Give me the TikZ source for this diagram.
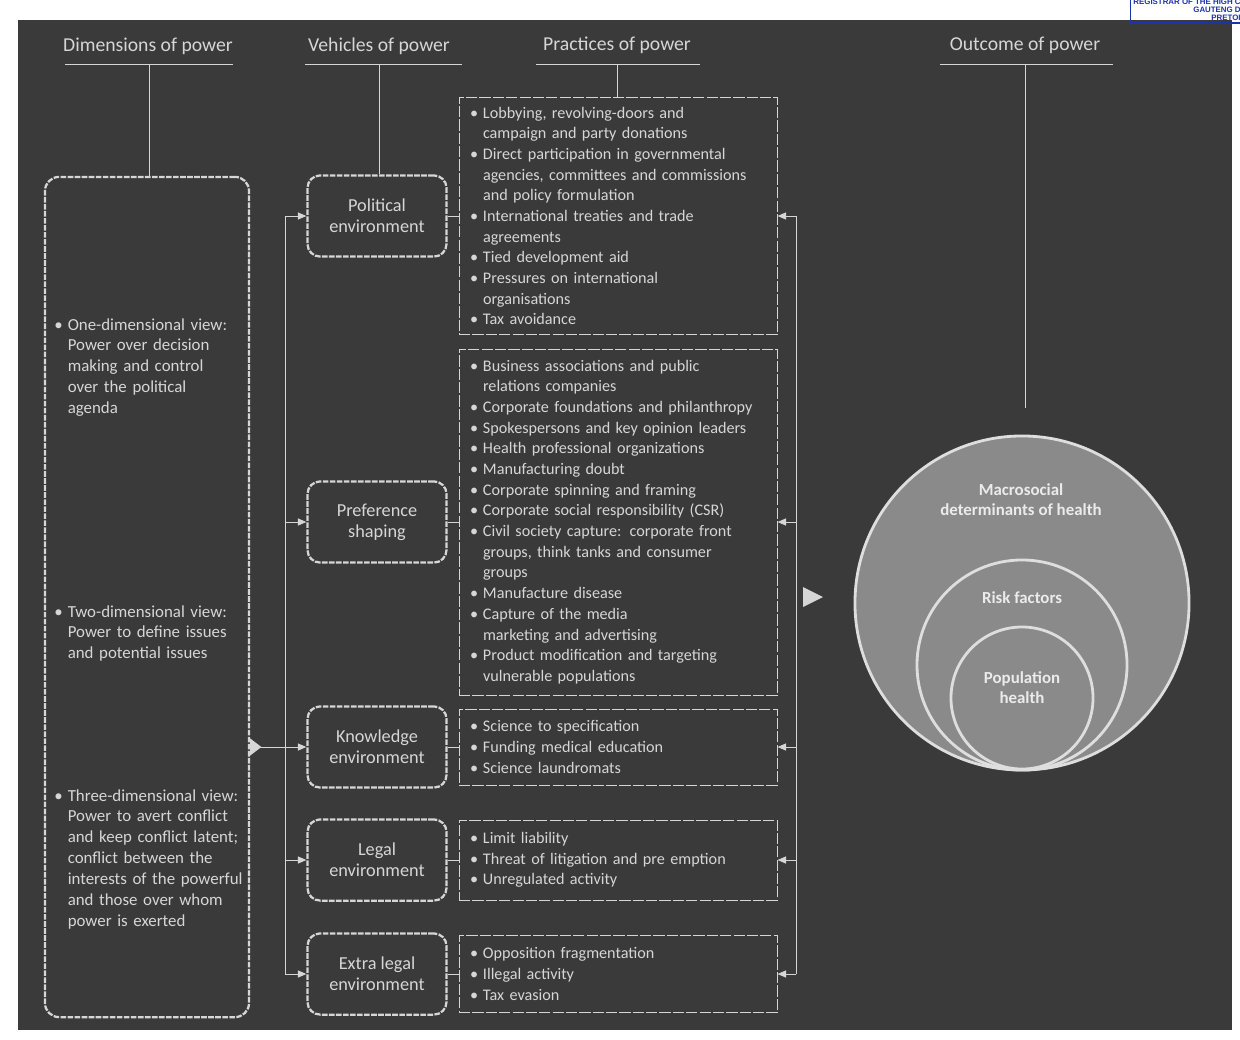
\documentclass[tikz,border=0pt]{standalone}
\usepackage{fontspec}
\setmainfont{Carlito}
\newfontfamily\stampfont{Liberation Sans}
\usetikzlibrary{arrows.meta,positioning,calc}
\definecolor{panel}{RGB}{58,58,58}
\definecolor{ink}{RGB}{214,214,214}
\definecolor{disc}{RGB}{138,138,138}
\definecolor{rim}{RGB}{222,222,222}
\definecolor{stampblue}{RGB}{30,50,170}
\newcommand{\bul}{\makebox[0.8em][l]{\textbullet}}
\newcommand{\contl}{\hspace*{0.8em}}
\tikzset{
  hdr/.style={font=\fontsize{14}{17}\selectfont, text=ink, inner sep=0pt},
  dbox/.style={rectangle, draw=ink, rounded corners=10pt, line width=1.6pt,
               dash pattern=on 4pt off 1pt, minimum width=5.1cm, minimum height=21cm},
  dtext/.style={align=left, text width=5.5cm, text=ink, inner sep=0pt,
                font=\fontsize{12}{14.9}\selectfont},
  vbox/.style={rectangle, draw=ink, rounded corners=9pt, line width=1.6pt,
               dash pattern=on 4pt off 1pt, minimum width=3.475cm, minimum height=2.03cm,
               align=center, text=ink, font=\fontsize{13}{15}\selectfont},
  pbox/.style={rectangle, draw=ink, line width=0.6pt, dash pattern=on 8pt off 1.5pt,
               text width=7.4cm, inner xsep=0.275cm, align=left, text=ink,
               font=\fontsize{11.5}{14.7}\selectfont},
  ring/.style={circle, draw=rim, line width=2pt, fill=disc},
  ctext/.style={align=center, text=white!92!black, font=\bfseries\fontsize{12}{14.2}\selectfont},
  link/.style={draw=ink, line width=0.7pt},
  arr/.style={-{Triangle[length=6pt,width=5pt]}, link},
  feed/.style={{Triangle[reversed,length=8pt,width=12pt]}-{Triangle[length=6pt,width=5pt]}, link},
  stampbox/.style={draw=stampblue, line width=0.8pt, text=stampblue, align=right, inner sep=2pt,
                   font=\stampfont\bfseries\fontsize{5.6}{5.4}\selectfont},
}
\begin{document}
\begin{tikzpicture}[x=0.025cm, y=-0.025cm, node distance=0.275cm]
    \clip (0,0) rectangle (1240,1039);
    \fill[white] (0,0) rectangle (1240,1039);
    \fill[panel] (18,20) rectangle (1232,1030);
    \node[stampbox, anchor=north east] (stamp) at (1244,-4) {REGISTRAR OF THE HIGH C\\GAUTENG D\\PRETOI};

    \node[hdr] (hdim) at (148,46) {Dimensions of power};
    \node[hdr] (hveh) at (379,46) {Vehicles of power};
    \node[hdr] (hpra) at (617,45) {Practices of power};
    \node[hdr] (hout) at (1025,45) {Outcome of power};
    \coordinate (udim) at (149,64); \coordinate (uveh) at (379,64);
    \coordinate (upra) at (617,64); \coordinate (uout) at (1025,64);
    \draw[link] (65,64) -- (233,64); \draw[link] (305,64) -- (462,64);
    \draw[link] (536,64) -- (700,64); \draw[link] (940,64) -- (1113,64);

    \node[dbox] (dims) at (147,597) {};
    \node[dtext, anchor=north west] (dimone) at (54,318)
      {\bul One-dimensional view:\\\contl Power over decision\\\contl making and control\\\contl over the political\\\contl agenda};
    \node[dtext, anchor=north west] (dimtwo) at (54,605)
      {\bul Two-dimensional view:\\\contl Power to define issues\\\contl and potential issues};
    \node[dtext, anchor=north west] (dimthree) at (54,789)
      {\bul Three-dimensional view:\\\contl Power to avert conflict\\\contl and keep conflict latent;\\\contl conflict between the\\\contl interests of the powerful\\\contl and those over whom\\\contl power is exerted};

    \node[vbox] (pol) at (377,216) {Political\\environment};
    \node[vbox] (pref) at (377,522) {Preference\\shaping};
    \node[vbox] (know) at (377,747) {Knowledge\\environment};
    \node[vbox] (legal) at (377,860) {Legal\\environment};
    \node[vbox] (xl) at (377,974) {Extra legal\\environment};

    \node[pbox, minimum height=5.925cm, right=of pol] (p1)
      {\bul Lobbying, revolving-doors and\\
       \contl campaign and party donations\\
       \bul Direct participation in governmental\\
       \contl agencies, committees and commissions\\
       \contl and policy formulation\\
       \bul International treaties and trade\\
       \contl agreements\\
       \bul Tied development aid\\
       \bul Pressures on international\\
       \contl organisations\\
       \bul Tax avoidance};
    \node[pbox, minimum height=8.65cm, right=of pref] (p2)
      {\bul Business associations and public\\
       \contl relations companies\\
       \bul Corporate foundations and philanthropy\\
       \bul Spokespersons and key opinion leaders\\
       \bul Health professional organizations\\
       \bul Manufacturing doubt\\
       \bul Corporate spinning and framing\\
       \bul Corporate social responsibility (CSR)\\
       \bul Civil society capture: corporate front\\
       \contl groups, think tanks and consumer\\
       \contl groups\\
       \bul Manufacture disease\\
       \bul Capture of the media\\
       \contl marketing and advertising\\
       \bul Product modification and targeting\\
       \contl vulnerable populations};
    \node[pbox, minimum height=1.9cm, right=of know] (p3)
      {\bul Science to specification\\\bul Funding medical education\\\bul Science laundromats};
    \node[pbox, minimum height=2cm, right=of legal] (p4)
      {\bul Limit liability\\\bul Threat of litigation and pre emption\\\bul Unregulated activity};
    \node[pbox, minimum height=1.925cm, right=of xl] (p5)
      {\bul Opposition fragmentation\\\bul Illegal activity\\\bul Tax evasion};

    \node[ring, minimum size=8.35cm] (macro) at (1022,603) {};
    \node[ring, minimum size=5.25cm] (risk) at (1022,665) {};
    \node[ring, minimum size=3.55cm] (pop) at (1022,698) {};
    \node[ctext] (macrolbl) at (1021,500) {Macrosocial\\determinants of health};
    \node[ctext] (risklbl) at (1022,598) {Risk factors};
    \node[ctext] (poplbl) at (1022,688) {Population\\health};

    \draw[link] (udim) -- (udim |- dims.north);
    \draw[link] (uveh) -- (uveh |- pol.north);
    \draw[link] (upra) -- (upra |- p1.north);
    \coordinate (oend) at (1025,408);
    \draw[link] (uout) -- (oend);

    \coordinate (lbus) at (285,0); \coordinate (rbus) at (796,0);
    \draw[link] (pol.west -| lbus) -- (xl.west -| lbus);
    \foreach \v in {pol,pref,legal,xl} \draw[arr] (\v.west -| lbus) -- (\v.west);
    \draw[feed] (dims.east |- know.west) -- (know.west);
    \foreach \v/\p in {pol/p1,pref/p2,know/p3,legal/p4,xl/p5} \draw[link] (\v) -- (\p);
    \draw[link] (p1.east -| rbus) -- (p5.east -| rbus);
    \foreach \p in {p1,p2,p3,p4,p5} \draw[arr] (\p.east -| rbus) -- (\p.east);
    \fill[ink] (803,587) -- (823,597) -- (803,607) -- cycle;
\end{tikzpicture}
\end{document}
